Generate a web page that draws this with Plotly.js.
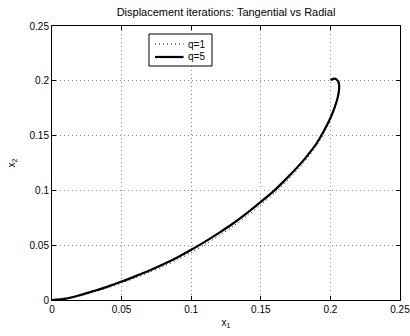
<!DOCTYPE html>
<html>
<head>
<meta charset="utf-8">
<script src="https://cdn.plot.ly/plotly-3.0.1.min.js"></script>
<style>html,body{margin:0;padding:0;background:#fff;}#chart{width:410px;height:336px;}</style>
</head>
<body>
<div id="chart"></div>
<script>
// q=5 (solid) path, from origin up to the hook
const x_q5 = [0, 0.01, 0.02, 0.03, 0.04, 0.05, 0.06, 0.07, 0.08, 0.09, 0.10, 0.11, 0.12, 0.13, 0.14, 0.15, 0.16, 0.17, 0.18, 0.185, 0.19, 0.195, 0.200, 0.203, 0.2052, 0.2063, 0.2059, 0.2045, 0.2030, 0.2012, 0.2002];
const y_q5 = [0, 0.0012, 0.0044, 0.0082, 0.0122, 0.0168, 0.0218, 0.0270, 0.0326, 0.0388, 0.0458, 0.0533, 0.0613, 0.0698, 0.0793, 0.0895, 0.1003, 0.1128, 0.1265, 0.1343, 0.1428, 0.1535, 0.1660, 0.1755, 0.1845, 0.1932, 0.1985, 0.2012, 0.2020, 0.2014, 0.2005];
// q=1 (dotted) path
const x_q1 = [0, 0.01, 0.02, 0.03, 0.04, 0.05, 0.06, 0.07, 0.08, 0.09, 0.10, 0.11, 0.12, 0.13, 0.14, 0.15, 0.16, 0.17, 0.18, 0.185, 0.19, 0.195, 0.200, 0.203, 0.2052, 0.2063, 0.2059, 0.2045, 0.2030, 0.2012, 0.2002];
const y_q1 = [0, 0.0010, 0.0039, 0.0075, 0.0112, 0.0155, 0.0203, 0.0253, 0.0306, 0.0366, 0.0434, 0.0508, 0.0587, 0.0671, 0.0766, 0.0868, 0.0976, 0.1102, 0.1240, 0.1320, 0.1406, 0.1515, 0.1645, 0.1745, 0.1840, 0.1930, 0.1985, 0.2012, 0.2020, 0.2014, 0.2005];
const xTicks = [0, 0.05, 0.1, 0.15, 0.2, 0.25];
const yTicks = [0, 0.05, 0.1, 0.15, 0.2, 0.25];
const names = ['q=1', 'q=5'];

const fam = 'Liberation Sans, Arial, sans-serif';
const font = {family: fam, size: 10, color: '#000'};
const traces = [
  {x: x_q1, y: y_q1, mode: 'lines', name: names[0], showlegend: false,
   line: {color: '#000', width: 1, dash: '1px,3px', shape: 'spline', smoothing: 0.8}},
  {x: x_q5, y: y_q5, mode: 'lines', name: names[1], showlegend: false,
   line: {color: '#000', width: 2.2, shape: 'spline', smoothing: 0.8}}
];
const axisBase = {
  showline: true, mirror: 'ticks', linecolor: '#000', linewidth: 1,
  ticks: 'inside', ticklen: 4, tickcolor: '#000',
  showgrid: true, gridcolor: '#8a8a8a', griddash: '1px,3px', gridwidth: 1,
  zeroline: false, tickfont: font, ticklabeloverflow: 'allow'
};
// legend box drawn in paper coordinates
const lg = {x0: 0.2787, x1: 0.4598, y0: 0.854, y1: 0.9708, rows: [0.9343, 0.8869], s0: 0.296, s1: 0.378, tx: 0.386};
const shapes = [
  {type: 'rect', xref: 'paper', yref: 'paper', x0: lg.x0, x1: lg.x1, y0: lg.y0, y1: lg.y1,
   line: {color: '#000', width: 1}, fillcolor: '#fff', layer: 'above'},
  {type: 'line', xref: 'paper', yref: 'paper', x0: lg.s0, x1: lg.s1, y0: lg.rows[0], y1: lg.rows[0],
   line: {color: '#000', width: 1, dash: '1px,3px'}, layer: 'above'},
  {type: 'line', xref: 'paper', yref: 'paper', x0: lg.s0, x1: lg.s1, y0: lg.rows[1], y1: lg.rows[1],
   line: {color: '#000', width: 2.2}, layer: 'above'}
];
const annotations = names.map((n, i) => ({
  xref: 'paper', yref: 'paper', x: lg.tx, y: lg.rows[i], xanchor: 'left', yanchor: 'middle',
  text: n, showarrow: false, font: font
}));
const layout = {
  width: 410, height: 336,
  margin: {l: 52, r: 10, t: 26, b: 36},
  paper_bgcolor: '#fff', plot_bgcolor: '#fff',
  font: font,
  showlegend: false,
  title: {text: 'Displacement iterations: Tangential vs Radial', font: {family: fam, size: 11, color: '#000'},
    x: 0.5, xanchor: 'center', y: 0.963, yanchor: 'middle', xref: 'paper'},
  xaxis: Object.assign({}, axisBase, {range: [0, 0.25], tickvals: xTicks, ticktext: xTicks.map(String),
    title: {text: 'x<sub>1</sub>', font: font, standoff: 4}}),
  yaxis: Object.assign({}, axisBase, {range: [0, 0.25], tickvals: yTicks, ticktext: yTicks.map(String),
    title: {text: 'x<sub>2</sub>', font: font, standoff: 12}}),
  shapes: shapes,
  annotations: annotations
};
Plotly.newPlot('chart', traces, layout, {staticPlot: true, displayModeBar: false});
</script>
</body>
</html>
